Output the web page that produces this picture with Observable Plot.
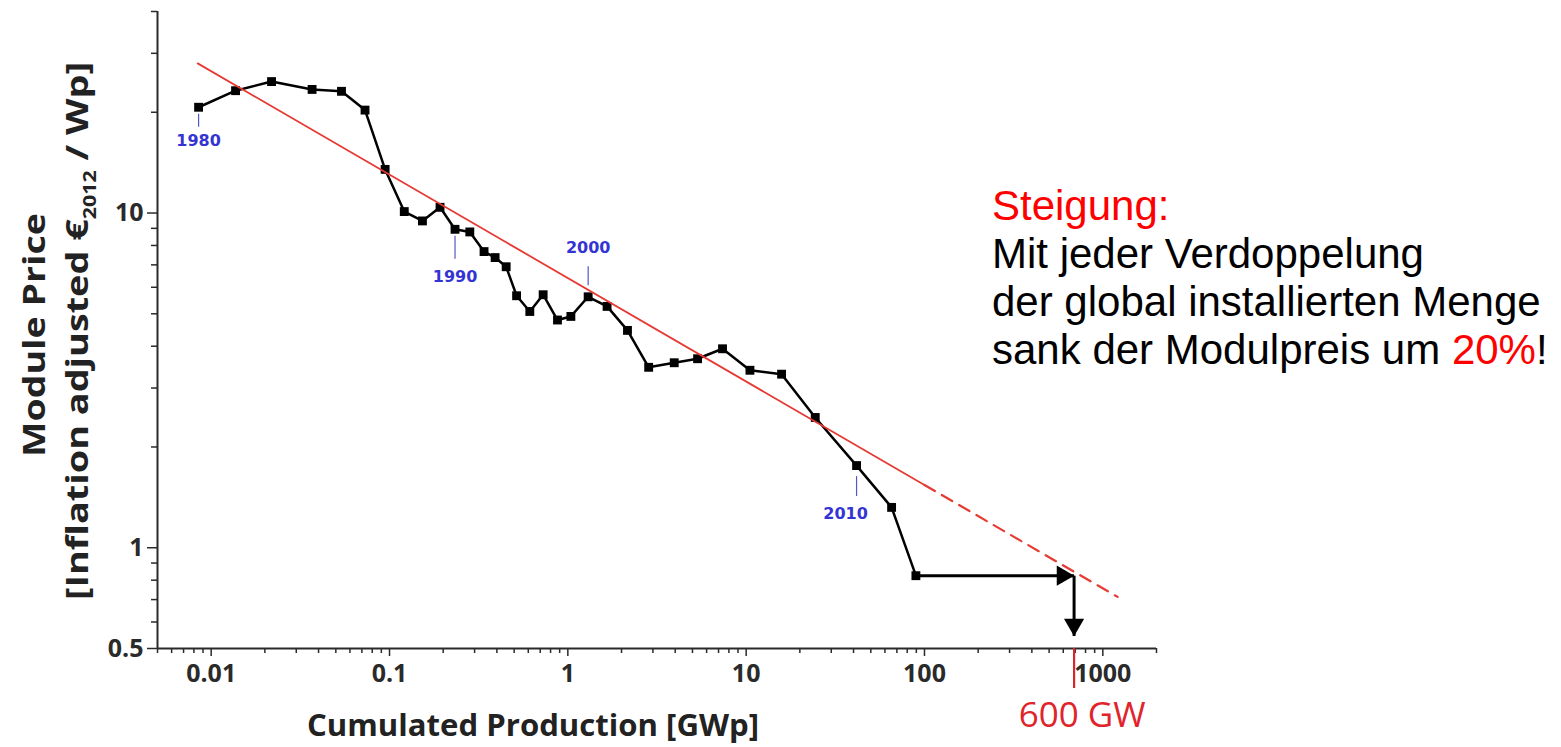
<!DOCTYPE html>
<html><head><meta charset="utf-8">
<script src="https://cdn.jsdelivr.net/npm/d3@7"></script>
<script src="https://cdn.jsdelivr.net/npm/@observablehq/plot@0.6"></script>
<style>
body{margin:0;background:#fff;}
#wrap{position:relative;width:1561px;height:747px;overflow:hidden;background:#fff;}
#note{position:absolute;left:992px;top:182px;font-family:"Liberation Sans",Arial,sans-serif;font-size:42px;line-height:48px;color:#000;white-space:nowrap;}
#note .red{color:#ff0000;}
</style></head><body><div id="wrap"><div id="note"><span class="red">Steigung:</span><br>Mit jeder Verdoppelung<br>der global installierten Menge<br>sank der Modulpreis um <span class="red">20%</span>!</div></div>
<script>
// ---- data ----
const years = [1980,1981,1982,1983,1984,1985,1986,1987,1988,1989,1990,1991,1992,1993,1994,1995,1996,1997,1998,1999,2000,2001,2002,2003,2004,2005,2006,2007,2008,2009,2010,2011,2012];
const production = [0.0085,0.0137,0.0218,0.0368,0.0538,0.0729,0.0945,0.121,0.153,0.192,0.233,0.282,0.339,0.391,0.451,0.516,0.612,0.727,0.875,1.04,1.30,1.66,2.16,2.84,3.95,5.34,7.37,10.5,15.8,24.4,41.6,65.4,89.5];
const price = [20.7,23.2,24.7,23.4,23.1,20.3,13.5,10.1,9.47,10.4,8.94,8.78,7.67,7.36,6.91,5.66,5.08,5.70,4.79,4.91,5.62,5.26,4.46,3.46,3.57,3.67,3.93,3.39,3.30,2.45,1.76,1.32,0.825];
const labelYears = [1980,1990,2000,2010];
const trendX = [0.0084,100,1210];
const trendY = [28.0,1.54,0.713];
const targetLabel = "600 GW";
const targetX = 690;
const arrowEndY = 0.545;
const xTickLabels = [0.01,0.1,1,10,100,1000];
const yTickLabels = [0.5,1,10];

// ---- build ----
const data = years.map((yr,i)=>({year:yr,x:production[i],y:price[i]}));
const last = data[data.length-1];
const trendSolid = [0,1].map(i=>({x:trendX[i],y:trendY[i]}));
const trendDashed = [1,2].map(i=>({x:trendX[i],y:trendY[i]}));
const hArrow = [{x1:last.x,y1:last.y,x2:targetX,y2:last.y}];
const vArrow = [{x1:targetX,y1:last.y,x2:targetX,y2:arrowEndY}];

const xDomain=[0.005,2000], yDomain=[0.5,40];
function minors(dom, majors){
  const out=[];
  for(let e=-4;e<=4;e++) for(let m=1;m<=9;m++){
    const v=+(m*Math.pow(10,e)).toPrecision(6);
    if(v>=dom[0]*0.999 && v<=dom[1]*1.001 && !majors.includes(v)) out.push(v);
  }
  return out;
}
const xMinor = minors(xDomain,xTickLabels);
const yMinor = minors(yDomain,yTickLabels);

const blue="#3434d4", red="#e63a33", axisCol="#2a2a2a";
const labelStyle = {
  1980:{dy:34,dx:0,top:7,bottom:20},
  1990:{dy:48,dx:0,top:7,bottom:30},
  2000:{dy:-49,dx:0,top:-30,bottom:-11},
  2010:{dy:48,dx:-11,top:11,bottom:31}
};
const yearMarks = labelYears.flatMap(yr=>{
  const d = data.filter(p=>p.year===yr);
  const s = labelStyle[yr];
  return [
    Plot.ruleX(d,{x:"x",y1:"y",y2:"y",insetTop:s.top,insetBottom:-s.bottom,stroke:"#5555cc",strokeWidth:1.2}),
    Plot.text(d,{x:"x",y:"y",text:p=>String(p.year),dy:s.dy,dx:s.dx,fill:blue,fontSize:16,fontWeight:"bold",fontFamily:"DejaVu Sans, sans-serif"})
  ];
});

const tickFont = {fontSize:25,fontWeight:"bold",fontFamily:'"Open Sans", sans-serif',color:axisCol};
const plot = Plot.plot({
  width:1561,height:747,
  marginLeft:157,marginRight:405,marginTop:11,marginBottom:99,
  style:{background:"transparent",fontFamily:'"Open Sans", sans-serif'},
  x:{type:"log",domain:xDomain},
  y:{type:"log",domain:yDomain},
  marks:[
    Plot.axisX({anchor:"bottom",ticks:xMinor,tickSize:5,tickFormat:()=>"",label:null,stroke:axisCol,strokeWidth:1.5}),
    Plot.axisX({anchor:"bottom",ticks:xTickLabels,tickSize:8,tickPadding:8,tickFormat:d=>String(d),label:null,stroke:axisCol,strokeWidth:1.5,...tickFont}),
    Plot.axisY({anchor:"left",ticks:yMinor,tickSize:6,tickFormat:()=>"",label:null,stroke:axisCol,strokeWidth:1.5}),
    Plot.axisY({anchor:"left",ticks:yTickLabels,tickSize:10,tickPadding:4,tickFormat:d=>String(d),label:null,stroke:axisCol,strokeWidth:1.5,...tickFont}),
    Plot.ruleY([yDomain[0]],{stroke:axisCol,strokeWidth:2}),
    Plot.ruleX([xDomain[0]],{stroke:axisCol,strokeWidth:2}),
    Plot.line(data,{x:"x",y:"y",stroke:"#000",strokeWidth:2.5}),
    Plot.dot(data,{x:"x",y:"y",symbol:"square",r:5,fill:"#000"}),
    Plot.line(trendSolid,{x:"x",y:"y",stroke:red,strokeWidth:1.8}),
    Plot.line(trendDashed,{x:"x",y:"y",stroke:red,strokeWidth:2.2,strokeDasharray:"12,8"}),
    Plot.link(hArrow,{x1:"x1",y1:"y1",x2:"x2",y2:"y2",stroke:"#000",strokeWidth:3}),
    Plot.link(vArrow,{x1:"x1",y1:"y1",x2:"x2",y2:"y2",stroke:"#000",strokeWidth:3}),
    Plot.dot(hArrow,{x:"x2",y:"y2",symbol:"triangle",r:7.5,rotate:90,fill:"#000",dx:-11.5}),
    Plot.dot(vArrow,{x:"x2",y:"y2",symbol:"triangle",r:7.5,rotate:180,fill:"#000",dy:-11.5}),
    Plot.ruleX([targetX],{y1:yDomain[0],y2:yDomain[0],insetBottom:-40,stroke:"#d8262c",strokeWidth:2.2}),
    Plot.text([targetLabel],{x:targetX,y:yDomain[0],text:d=>d,dy:67,dx:8,fill:"#e0242a",fontSize:35,fontFamily:'"Open Sans", sans-serif'}),
    ...yearMarks
  ]
});
document.getElementById("wrap").prepend(plot);

// axis titles
const svg = d3.select(plot);
const titleFont = '"Open Sans", sans-serif';
svg.append("text").attr("transform","translate(45,335) rotate(-90)")
  .attr("text-anchor","middle").attr("font-family",titleFont).attr("font-weight","bold")
  .attr("font-size",30).attr("fill","#222").attr("textLength",244).attr("lengthAdjust","spacingAndGlyphs")
  .text("Module Price");
const t2 = svg.append("text").attr("transform","translate(88,331) rotate(-90)")
  .attr("text-anchor","middle").attr("font-family",titleFont).attr("font-weight","bold")
  .attr("font-size",30).attr("fill","#222").attr("textLength",538).attr("lengthAdjust","spacingAndGlyphs");
t2.append("tspan").text("[Inflation adjusted €");
t2.append("tspan").attr("font-size",17).attr("dy",8).text("2012");
t2.append("tspan").attr("dy",-8).text(" / Wp]");
svg.append("text").attr("x",533).attr("y",736)
  .attr("text-anchor","middle").attr("font-family",titleFont).attr("font-weight","bold")
  .attr("font-size",30).attr("fill","#222").attr("textLength",452).attr("lengthAdjust","spacingAndGlyphs")
  .text("Cumulated Production [GWp]");
</script></body></html>
